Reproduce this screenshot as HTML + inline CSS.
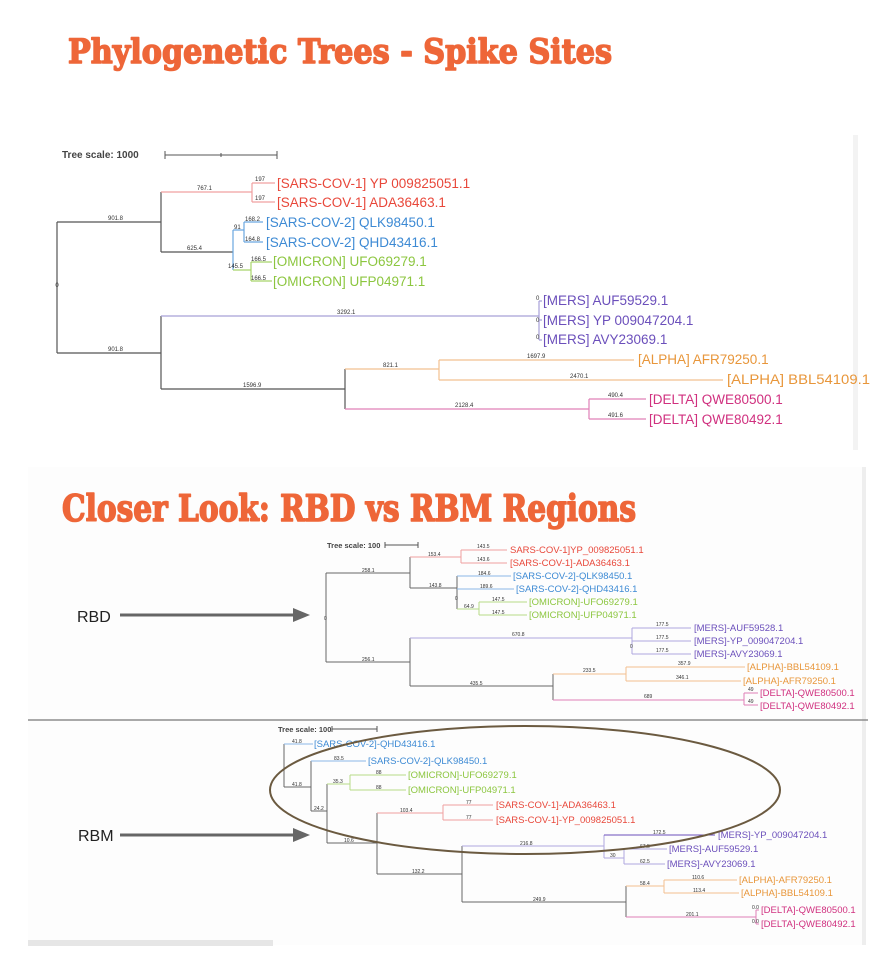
<!DOCTYPE html>
<html><head><meta charset="utf-8"><style>
html,body{margin:0;padding:0;background:#fff;}
svg{display:block;font-family:"Liberation Sans",sans-serif;}
.t{font-family:"DejaVu Serif","Liberation Serif",serif;font-weight:bold;fill:#ee6638;stroke:#ee6638;stroke-width:1.6;stroke-linejoin:round;}
.b{font-size:6px;fill:#333;}
.b2{font-size:5px;fill:#333;}
</style></head><body>
<svg width="882" height="968" viewBox="0 0 882 968" xmlns="http://www.w3.org/2000/svg">
<rect x="0" y="0" width="882" height="968" fill="#fff"/>
<rect x="853" y="135" width="5" height="315" fill="#f3f3f3"/>
<rect x="28" y="467" width="838" height="478" fill="#fdfdfd"/>
<rect x="862" y="467" width="4" height="478" fill="#eee"/>
<rect x="28" y="940" width="245" height="6" fill="#e6e6e6"/>
<line x1="28" y1="720" x2="868" y2="720" stroke="#777" stroke-width="1.2"/>

<text class="t" x="68" y="63" font-size="34" textLength="544" lengthAdjust="spacingAndGlyphs">Phylogenetic Trees - Spike Sites</text>
<text class="t" x="62" y="521" font-size="36" textLength="574" lengthAdjust="spacingAndGlyphs">Closer Look: RBD vs RBM Regions</text>

<text x="62" y="158" font-size="10" font-weight="bold" fill="#444">Tree scale: 1000</text>
<path d="M165 155H277M165 151V159M277 151V159M221 153V157" stroke="#555" fill="none"/>
<g fill="none" stroke-width="1.2">
<path d="M57 222V353M57 222H161M57 353H161M161 192V252M161 252H233M161 316V389M161 389H345" stroke="#555"/>
<path d="M161 192H252M252 183V202M252 183H275M252 202H275" stroke="#f0a0a0"/>
<path d="M233 230V270M233 230H244M244 222V242M244 222H263M244 242H263" stroke="#6aa6e0"/>
<path d="M233 270H251M251 262V281M251 262H272M251 281H272" stroke="#a8d46a"/>
<path d="M161 316H539M539 301V340M539 301H542M539 320H542M539 340H542" stroke="#a8a0d8"/>
<path d="M345 369V409" stroke="#555"/>
<path d="M345 369H439M439 360V380M439 360H634M439 380H723" stroke="#f2c090"/>
<path d="M345 409H589M589 399V419M589 399H646M589 419H646" stroke="#e080b8"/>
</g>
<g class="b">
<text x="57" y="287" text-anchor="middle">0</text>
<text x="108" y="220">901.8</text><text x="108" y="351">901.8</text>
<text x="197" y="190">767.1</text><text x="255" y="181">197</text><text x="255" y="200">197</text>
<text x="187" y="250">625.4</text><text x="234" y="229">91</text>
<text x="245" y="221">168.2</text><text x="245" y="241">164.8</text>
<text x="228" y="268">145.5</text><text x="251" y="261">166.5</text><text x="251" y="280">166.5</text>
<text x="337" y="314">3292.1</text><text x="536" y="300">0</text><text x="536" y="322">0</text><text x="536" y="339">0</text>
<text x="243" y="387">1596.9</text><text x="383" y="367">821.1</text>
<text x="527" y="358">1697.9</text><text x="570" y="378">2470.1</text>
<text x="455" y="407">2128.4</text><text x="608" y="397">490.4</text><text x="608" y="417">491.6</text>
</g>
<g font-size="13.5">
<text x="277" y="188" fill="#e8473a">[SARS-COV-1] YP 009825051.1</text>
<text x="277" y="207" fill="#e8473a">[SARS-COV-1] ADA36463.1</text>
<text x="266" y="227" fill="#3d8ad4">[SARS-COV-2] QLK98450.1</text>
<text x="266" y="247" fill="#3d8ad4">[SARS-COV-2] QHD43416.1</text>
<text x="273" y="266" fill="#8cc63f">[OMICRON] UFO69279.1</text>
<text x="273" y="286" fill="#8cc63f">[OMICRON] UFP04971.1</text>
<text x="543" y="305" fill="#6b4fbb">[MERS] AUF59529.1</text>
<text x="543" y="325" fill="#6b4fbb">[MERS] YP 009047204.1</text>
<text x="543" y="344" fill="#6b4fbb">[MERS] AVY23069.1</text>
<text x="638" y="364" fill="#e8963a">[ALPHA] AFR79250.1</text>
<text x="727" y="384" fill="#e8963a" textLength="143" lengthAdjust="spacingAndGlyphs">[ALPHA] BBL54109.1</text>
<text x="649" y="404" fill="#d0307f">[DELTA] QWE80500.1</text>
<text x="649" y="424" fill="#d0307f">[DELTA] QWE80492.1</text>
</g>

<text x="77" y="622" font-size="16" fill="#222">RBD</text>
<line x1="120" y1="615" x2="296" y2="615" stroke="#666" stroke-width="3"/>
<polygon points="293,608 310,615 293,622" fill="#666"/>
<text x="327" y="548" font-size="7.5" font-weight="bold" fill="#444">Tree scale: 100</text>
<path d="M385 545H418M385 542V548M418 542V548" stroke="#555" fill="none"/>
<g fill="none" stroke-width="1">
<path d="M326 573V662M326 573H410M326 662H410M410 557V588M410 588H457M457 576V609M410 638V686M410 686H553M553 674V700" stroke="#666"/>
<path d="M410 557H461M461 550V563M461 550H507M461 563H507" stroke="#f0a0a0"/>
<path d="M457 576H511M457 589H514" stroke="#8ab8e8"/>
<path d="M457 609H479M479 602V615M479 602H527M479 615H527" stroke="#b8dc88"/>
<path d="M410 638H632M632 628V654M632 628H691M632 641H691M632 654H691" stroke="#b0a8e0"/>
<path d="M553 674H626M626 667V681M626 667H745M626 681H741" stroke="#f2c090"/>
<path d="M553 700H744M744 693V705M744 693H758M744 705H758" stroke="#e080b8"/>
</g>
<g class="b2">
<text x="324" y="620">0</text><text x="362" y="572">258.1</text><text x="362" y="661">256.1</text>
<text x="428" y="556">153.4</text><text x="477" y="548">143.5</text><text x="477" y="561">143.6</text>
<text x="429" y="587">143.8</text><text x="455" y="600">0</text>
<text x="478" y="575">184.6</text><text x="480" y="588">189.6</text>
<text x="464" y="608">64.9</text><text x="492" y="601">147.5</text><text x="492" y="614">147.5</text>
<text x="512" y="636">670.8</text><text x="630" y="648">0</text>
<text x="656" y="626">177.5</text><text x="656" y="639">177.5</text><text x="656" y="652">177.5</text>
<text x="470" y="685">435.5</text><text x="583" y="672">233.5</text>
<text x="678" y="665">357.9</text><text x="676" y="679">346.1</text>
<text x="644" y="698">689</text><text x="748" y="691">49</text><text x="748" y="703">49</text>
</g>
<g font-size="9.5">
<text x="510" y="553" fill="#e8473a">SARS-COV-1]YP_009825051.1</text>
<text x="510" y="566" fill="#e8473a">[SARS-COV-1]-ADA36463.1</text>
<text x="513" y="579" fill="#3d8ad4">[SARS-COV-2]-QLK98450.1</text>
<text x="516" y="592" fill="#3d8ad4">[SARS-COV-2]-QHD43416.1</text>
<text x="529" y="605" fill="#8cc63f">[OMICRON]-UFO69279.1</text>
<text x="529" y="618" fill="#8cc63f">[OMICRON]-UFP04971.1</text>
<text x="694" y="631" fill="#6b4fbb">[MERS]-AUF59528.1</text>
<text x="694" y="644" fill="#6b4fbb">[MERS]-YP_009047204.1</text>
<text x="694" y="657" fill="#6b4fbb">[MERS]-AVY23069.1</text>
<text x="747" y="670" fill="#e8963a">[ALPHA]-BBL54109.1</text>
<text x="743" y="684" fill="#e8963a">[ALPHA]-AFR79250.1</text>
<text x="760" y="696" fill="#d0307f">[DELTA]-QWE80500.1</text>
<text x="760" y="709" fill="#d0307f">[DELTA]-QWE80492.1</text>
</g>

<text x="78" y="841" font-size="16" fill="#222">RBM</text>
<line x1="120" y1="835" x2="296" y2="835" stroke="#666" stroke-width="3"/>
<polygon points="293,828 310,835 293,842" fill="#666"/>
<text x="278" y="732" font-size="7.5" font-weight="bold" fill="#444">Tree scale: 100</text>
<path d="M332 729H377M332 726V732M377 726V732" stroke="#555" fill="none"/>
<g fill="none" stroke-width="1">
<path d="M284 744V787M284 787H311M311 761V811M311 811H327M327 784V843M327 843H377M377 813V874M377 874H462M462 846V902M462 902H626M626 886V917" stroke="#666"/>
<path d="M284 744H313M311 761H366" stroke="#8ab8e8"/>
<path d="M327 784H350M350 775V790M350 775H406M350 790H406" stroke="#b8dc88"/>
<path d="M377 813H443M443 805V820M443 805H493M443 820H493" stroke="#f0a0a0"/>
<path d="M462 846H604M604 835V858M604 858H624M624 849V864M624 849H667M624 864H665" stroke="#b0a8e0"/>
<path d="M604 835H715" stroke="#6b4fbb"/>
<path d="M626 886H664M664 880V893M664 880H737M664 893H739" stroke="#f2c090"/>
<path d="M626 917H756M756 910V924M756 910H759M756 924H759" stroke="#e080b8"/>
</g>
<g class="b2">
<text x="292" y="743">41.8</text><text x="292" y="786">41.8</text><text x="334" y="760">83.5</text>
<text x="314" y="810">24.2</text><text x="333" y="783">35.3</text>
<text x="376" y="774">88</text><text x="376" y="789">88</text>
<text x="344" y="842">10.6</text><text x="400" y="812">103.4</text>
<text x="466" y="804">77</text><text x="466" y="819">77</text>
<text x="412" y="873">132.2</text><text x="520" y="845">216.8</text>
<text x="610" y="857">30</text><text x="653" y="834">172.5</text>
<text x="640" y="848">67.5</text><text x="640" y="863">62.5</text>
<text x="533" y="901">249.9</text><text x="640" y="885">58.4</text>
<text x="692" y="879">110.6</text><text x="693" y="892">113.4</text>
<text x="686" y="916">201.1</text><text x="752" y="909">0.0</text><text x="752" y="923">0.0</text>
</g>
<g font-size="9.5">
<text x="314" y="747" fill="#3d8ad4">[SARS-COV-2]-QHD43416.1</text>
<text x="368" y="764" fill="#3d8ad4">[SARS-COV-2]-QLK98450.1</text>
<text x="408" y="778" fill="#8cc63f">[OMICRON]-UFO69279.1</text>
<text x="408" y="793" fill="#8cc63f">[OMICRON]-UFP04971.1</text>
<text x="496" y="808" fill="#e8473a">[SARS-COV-1]-ADA36463.1</text>
<text x="496" y="823" fill="#e8473a">[SARS-COV-1]-YP_009825051.1</text>
<text x="718" y="838" fill="#6b4fbb">[MERS]-YP_009047204.1</text>
<text x="669" y="852" fill="#6b4fbb">[MERS]-AUF59529.1</text>
<text x="667" y="867" fill="#6b4fbb">[MERS]-AVY23069.1</text>
<text x="739" y="883" fill="#e8963a">[ALPHA]-AFR79250.1</text>
<text x="741" y="896" fill="#e8963a">[ALPHA]-BBL54109.1</text>
<text x="761" y="913" fill="#d0307f">[DELTA]-QWE80500.1</text>
<text x="761" y="927" fill="#d0307f">[DELTA]-QWE80492.1</text>
</g>
<ellipse cx="525" cy="790" rx="255" ry="64" fill="none" stroke="#6b5a40" stroke-width="2"/>
</svg>
</body></html>
